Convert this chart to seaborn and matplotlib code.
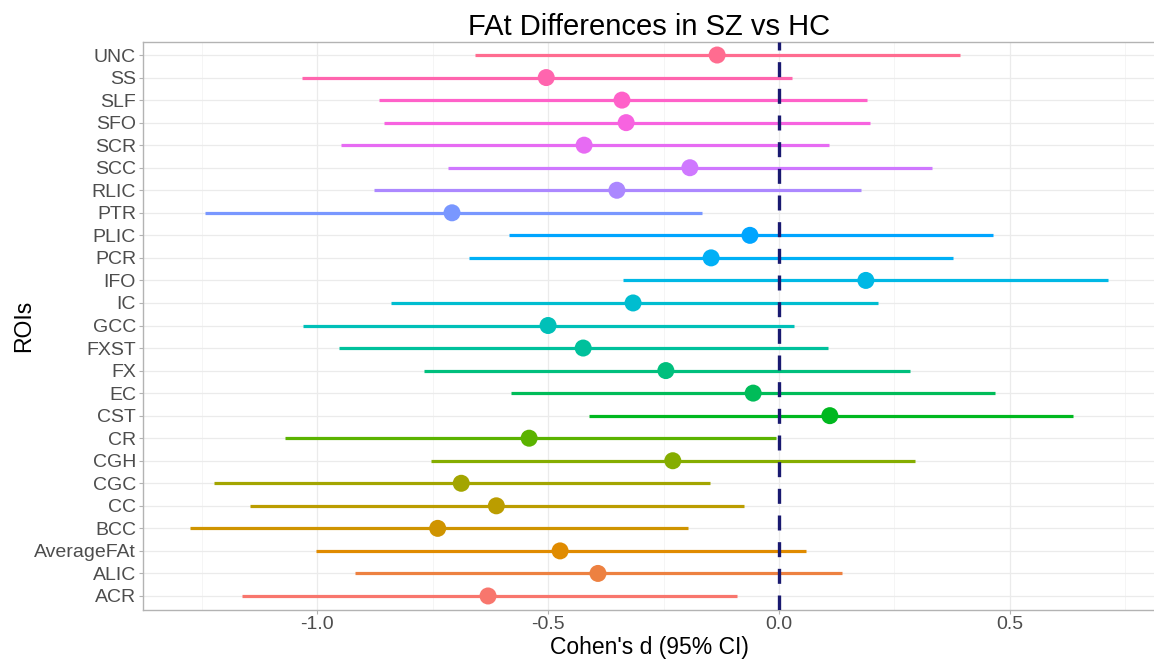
import numpy as np
import pandas as pd
import matplotlib
matplotlib.use("Agg")
import matplotlib.pyplot as plt
import seaborn as sns

# Cohen's d with 95% CI per ROI (bottom to top)
rois = ["ACR", "ALIC", "AverageFAt", "BCC", "CC", "CGC", "CGH", "CR", "CST", "EC",
        "FX", "FXST", "GCC", "IC", "IFO", "PCR", "PLIC", "PTR", "RLIC", "SCC",
        "SCR", "SFO", "SLF", "SS", "UNC"]
cohen_d = [-0.630, -0.392, -0.474, -0.739, -0.612, -0.688, -0.230, -0.541, 0.110, -0.056,
           -0.245, -0.424, -0.500, -0.316, 0.188, -0.147, -0.063, -0.708, -0.351, -0.193,
           -0.422, -0.331, -0.340, -0.504, -0.134]
ci_low = [-1.162, -0.918, -1.002, -1.276, -1.145, -1.224, -0.754, -1.069, -0.411, -0.580,
          -0.768, -0.952, -1.030, -0.840, -0.338, -0.671, -0.584, -1.242, -0.877, -0.716,
          -0.948, -0.856, -0.866, -1.032, -0.658]
ci_high = [-0.091, 0.137, 0.058, -0.197, -0.076, -0.149, 0.294, -0.006, 0.637, 0.468,
           0.283, 0.105, 0.032, 0.214, 0.712, 0.377, 0.463, -0.167, 0.177, 0.331,
           0.108, 0.197, 0.190, 0.028, 0.392]

df = pd.DataFrame({"roi": rois, "d": cohen_d, "lo": ci_low, "hi": ci_high})


def hue_pal(n, l=65, c=100):
    # ggplot2 default hue palette (polar LUV -> sRGB)
    hues = np.linspace(15, 375, n + 1)[:-1]
    xn, yn, zn = 95.047, 100.0, 108.883
    un = 4 * xn / (xn + 15 * yn + 3 * zn)
    vn = 9 * yn / (xn + 15 * yn + 3 * zn)
    out = []
    for h in hues:
        u = c * np.cos(np.radians(h))
        v = c * np.sin(np.radians(h))
        Y = yn * ((l + 16) / 116) ** 3
        up = u / (13 * l) + un
        vp = v / (13 * l) + vn
        X = Y * 9 * up / (4 * vp)
        Z = Y * (12 - 3 * up - 20 * vp) / (4 * vp)
        xyz = np.array([X, Y, Z]) / 100
        m = np.array([[3.2404542, -1.5371385, -0.4985314],
                      [-0.9692660, 1.8760108, 0.0415560],
                      [0.0556434, -0.2040259, 1.0572252]])
        rgb = m @ xyz
        rgb = np.where(rgb > 0.0031308, 1.055 * np.abs(rgb) ** (1 / 2.4) - 0.055, 12.92 * rgb)
        out.append(tuple(np.clip(rgb, 0, 1)))
    return out


colors = hue_pal(len(rois))
pal = dict(zip(rois, colors))

sns.set_theme(style="white")
plt.rcParams["font.family"] = ["Liberation Sans", "DejaVu Sans"]

W, H = 1154, 659
fig = plt.figure(figsize=(W / 100, H / 100), dpi=100)
ax = fig.add_axes([143 / W, 1 - 609.5 / H, (1155 - 143) / W, (609.5 - 41.5) / H])

ax.set_xlim(-1.377, 0.814)
ax.set_ylim(-0.6, len(rois) - 0.4)

# grid
ax.set_xticks([-1.0, -0.5, 0.0, 0.5])
ax.set_xticks([-1.25, -0.75, -0.25, 0.25, 0.75], minor=True)
ax.grid(axis="x", which="major", color="#EBEBEB", lw=0.9, zorder=0)
ax.grid(axis="x", which="minor", color="#F4F4F4", lw=0.6, zorder=0)
ax.grid(axis="y", which="major", color="#EBEBEB", lw=0.9, zorder=0)

ax.hlines(df["roi"], df["lo"], df["hi"], colors=[pal[r] for r in df["roi"]], lw=2.3, zorder=2)
sns.scatterplot(data=df, x="d", y="roi", hue="roi", palette=pal, s=150,
                edgecolor="none", legend=False, ax=ax, zorder=3)
ax.axvline(0, color="#191970", lw=2.4, ls=(0, (4.5, 3.5)), zorder=4)

ax.set_ylim(-0.6, len(rois) - 0.4)
ax.set_xticklabels(["-1.0", "-0.5", "0.0", "0.5"])

for s in ax.spines.values():
    s.set_color("#B3B3B3")
    s.set_linewidth(1.0)

ax.tick_params(axis="both", which="major", length=3, width=0.8, color="#B3B3B3",
               labelsize=14, labelcolor="#4D4D4D", pad=2)
ax.tick_params(axis="x", which="minor", length=0)
ax.tick_params(left=True, bottom=True)

ax.set_xlabel("Cohen's d (95% CI)", fontsize=16.5, color="black", labelpad=2)
ax.set_ylabel("ROIs", fontsize=16.5, color="black", labelpad=-1)
ax.set_title("FAt Differences in SZ vs HC", fontsize=21, color="black", pad=5)

fig.savefig("out.png", dpi=100)
